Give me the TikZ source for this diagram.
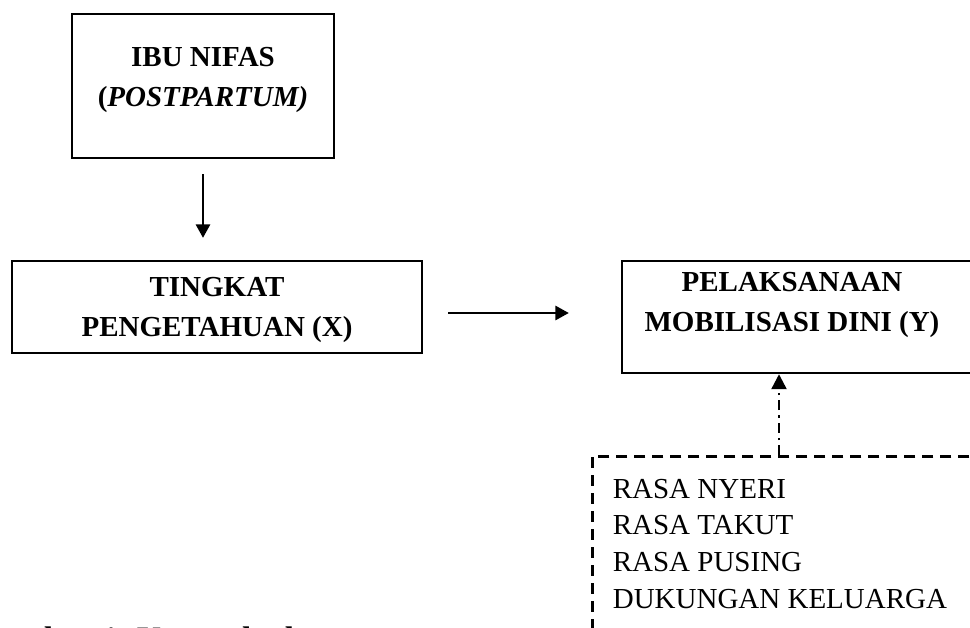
\documentclass[tikz,border=0pt]{standalone}
\usepackage{fontspec}
\setmainfont{Liberation Serif}
\usetikzlibrary{arrows.meta}

\tikzstyle{bx}=[shape=rectangle,
                draw=black,
                line width=1.4pt,
                inner sep=0pt]
\tikzstyle{db}=[shape=rectangle,
                draw=black,
                line width=1.5pt,
                dash pattern=on 0.22cm off 0.14cm,
                inner sep=0pt]
\tikzstyle{tt}=[align=center,
                inner sep=0pt,
                font=\fontsize{16.5}{23}\selectfont\bfseries]
\tikzstyle{lt}=[align=left,
                inner sep=0pt,
                font=\fontsize{16.5}{21}\selectfont]

\begin{document}
\begin{tikzpicture}[>={Triangle[length=0.27cm,width=0.29cm]},line width=0.95pt]
\useasboundingbox (0,0) rectangle (19.4,-12.56);

% boxes
\node[bx, minimum width=5.24cm, minimum height=2.88cm] (p1) at (4.06,-1.72) {};
\node[bx, minimum width=8.2cm, minimum height=1.84cm] (x1) at (4.34,-6.14) {};
\node[bx, minimum width=7.16cm, minimum height=2.24cm] (y1) at (16.02,-6.34) {};
\node[db, anchor=north west, minimum width=8cm, minimum height=4.5cm] (f1) at (11.82,-9.1) {};

% texts
\node[tt] (p1t) at (4.06,-1.6) {IBU NIFAS\\(\textit{POSTPARTUM)}};
\node[tt] (x1t) at (4.34,-6.2) {TINGKAT\\PENGETAHUAN (X)};
\node[tt] (y1t) at (15.84,-6.1) {PELAKSANAAN\\MOBILISASI DINI (Y)};
\node[lt, anchor=north west] (f1t) at (12.24,-9.56) {RASA NYERI\\RASA TAKUT\\RASA PUSING\\DUKUNGAN KELUARGA};

% caption, cut by the page edge
\node[anchor=base west, inner sep=0pt, font=\fontsize{18.6}{22}\selectfont\bfseries] (cap) at (-0.51,-12.98) {Gambar 1. Kerangka konsep};

% paths
\coordinate (f1a) at ([xshift=3.76cm]f1.north west);
\draw[->, shorten <=0.3cm, shorten >=0.44cm] (p1.south) -- (p1.south |- x1.north);
\draw[->, shorten <=0.5cm, shorten >=1.04cm] ([yshift=-0.12cm]x1.east) -- ([yshift=-0.12cm]x1.east -| y1.west);
\draw[->, line width=1.4pt, >={Triangle[length=0.3cm,width=0.3cm]}, dash pattern=on 0.2cm off 0.1cm on 0.05cm off 0.1cm] (f1a) -- (f1a |- y1.south);
\end{tikzpicture}
\end{document}
